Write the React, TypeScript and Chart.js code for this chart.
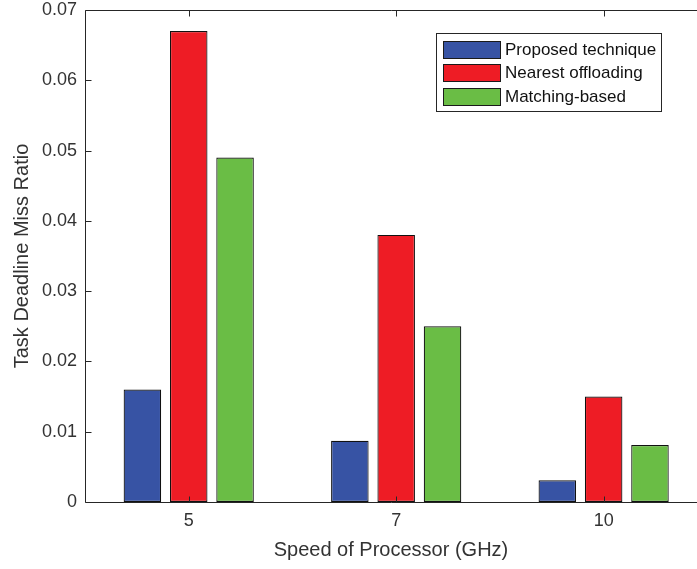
import React, { useEffect, useRef } from "react";
import { Chart, registerables } from "chart.js";

Chart.register(...registerables);

const CATEGORIES = ["5", "7", "10"];
const X_POS = [1, 2, 3];
const SERIES_NAMES = ["Proposed technique", "Nearest offloading", "Matching-based"];
const PROPOSED = [0.016, 0.0087, 0.0031];
const NEAREST = [0.067, 0.038, 0.015];
const MATCHING = [0.049, 0.025, 0.0081];
const Y_TICKS = [0, 0.01, 0.02, 0.03, 0.04, 0.05, 0.06, 0.07];
const COLORS = ["#3753a4", "#ee1c25", "#6abd45"];

const FONT = '"Liberation Sans", Arial, Helvetica, sans-serif';
const AXIS_COLOR = "#262626";
const TEXT_COLOR = "#333333";

const boxPlugin = {
  id: "matlabBox",
  afterDatasetsDraw(chart: any) {
    const { ctx, chartArea, scales } = chart;
    const { left, right, top, bottom } = chartArea;
    const L = Math.round(left) + 0.5;
    const T = Math.round(top) + 0.5;
    const B = Math.round(bottom) + 0.5;
    ctx.save();
    ctx.strokeStyle = AXIS_COLOR;
    ctx.lineWidth = 1;
    ctx.beginPath();
    ctx.moveTo(right + 5, T);
    ctx.lineTo(L, T);
    ctx.lineTo(L, B);
    ctx.lineTo(right + 5, B);
    ctx.stroke();
    const tl = 6;
    ctx.beginPath();
    scales.y.ticks.forEach((t: any) => {
      const y = Math.round(scales.y.getPixelForValue(t.value)) + 0.5;
      ctx.moveTo(L, y);
      ctx.lineTo(L + tl, y);
    });
    scales.x.ticks.forEach((t: any) => {
      const x = Math.round(scales.x.getPixelForValue(t.value)) + 0.5;
      ctx.moveTo(x, B);
      ctx.lineTo(x, B - tl);
      ctx.moveTo(x, T);
      ctx.lineTo(x, T + tl);
    });
    ctx.stroke();
    ctx.restore();
  },
  afterDraw(chart: any) {
    const { ctx, chartArea } = chart;
    const fontSize = 17;
    ctx.save();
    ctx.font = `${fontSize}px ${FONT}`;
    const names = chart.data.datasets.map((d: any) => d.label);
    const maxW = Math.max(...names.map((n: string) => ctx.measureText(n).width));
    const swW = 57;
    const swH = 17;
    const rowH = 23.5;
    const padL = 6;
    const gap = 5;
    const padR = 6;
    const padT = 7;
    const boxW = padL + swW + gap + maxW + padR;
    const boxH = padT * 2 + rowH * names.length - (rowH - swH);
    const boxRight = chartArea.right - 36;
    const boxLeft = Math.round(boxRight - boxW) + 0.5;
    const boxTop = Math.round(chartArea.top + 23) + 0.5;
    ctx.fillStyle = "#ffffff";
    ctx.fillRect(boxLeft, boxTop, Math.round(boxW), Math.round(boxH));
    ctx.strokeStyle = AXIS_COLOR;
    ctx.lineWidth = 1;
    ctx.strokeRect(boxLeft, boxTop, Math.round(boxW), Math.round(boxH));
    names.forEach((n: string, i: number) => {
      const y = Math.round(boxTop + padT + i * rowH);
      const x = Math.round(boxLeft + padL);
      ctx.fillStyle = chart.data.datasets[i].backgroundColor;
      ctx.fillRect(x + 0.5, y + 0.5, swW, swH);
      ctx.strokeStyle = "#1a1a1a";
      ctx.strokeRect(x + 0.5, y + 0.5, swW, swH);
      ctx.fillStyle = "#111111";
      ctx.textBaseline = "middle";
      ctx.textAlign = "left";
      ctx.fillText(n, x + swW + gap, y + swH / 2 + 1);
    });
    ctx.restore();
  },
};

export default function App() {
  const canvasRef = useRef<HTMLCanvasElement | null>(null);

  useEffect(() => {
    const canvas = canvasRef.current;
    if (!canvas) return;
    const seriesValues = [PROPOSED, NEAREST, MATCHING];
    const chart = new Chart(canvas, {
      type: "bar",
      data: {
        datasets: seriesValues.map((vals, si) => ({
          label: SERIES_NAMES[si],
          data: X_POS.map((x, i) => ({ x, y: vals[i] })),
          backgroundColor: COLORS[si],
          borderColor: "#111111",
          borderWidth: 1.2,
          borderSkipped: false,
          categoryPercentage: 0.67,
          barPercentage: 0.81,
        })),
      },
      options: {
        responsive: false,
        animation: false,
        devicePixelRatio: 1,
        layout: { padding: { top: 0, left: 0, right: 0, bottom: 0 } },
        plugins: { legend: { display: false }, tooltip: { enabled: false } },
        scales: {
          x: {
            type: "linear",
            min: 0.5,
            max: 3.45,
            offset: false,
            grid: { display: false, drawTicks: false },
            border: { display: false },
            afterBuildTicks: (s: any) => {
              s.ticks = X_POS.map((v) => ({ value: v }));
            },
            afterFit: (s: any) => {
              s.height = 67;
              s.paddingLeft = 0;
              s.paddingRight = 0;
            },
            ticks: {
              autoSkip: false,
              maxRotation: 0,
              padding: 8,
              color: TEXT_COLOR,
              font: { family: FONT, size: 18 },
              callback: (v: any) => {
                const idx = X_POS.indexOf(Number(v));
                return idx >= 0 ? CATEGORIES[idx] : "";
              },
            },
            title: {
              display: true,
              text: "Speed of Processor (GHz)",
              color: TEXT_COLOR,
              font: { family: FONT, size: 20 },
              padding: { top: 0, bottom: 7 },
            },
          },
          y: {
            type: "linear",
            min: 0,
            max: 0.07,
            grid: { display: false, drawTicks: false },
            border: { display: false },
            afterBuildTicks: (s: any) => {
              s.ticks = Y_TICKS.map((v) => ({ value: v }));
            },
            afterFit: (s: any) => {
              s.width = 85;
              s.paddingTop = 10;
              s.paddingBottom = 0;
            },
            ticks: {
              padding: 8,
              color: TEXT_COLOR,
              font: { family: FONT, size: 18, lineHeight: 1.1 },
              callback: (v: any) => (Number(v) === 0 ? "0" : Number(v).toFixed(2)),
            },
            title: {
              display: true,
              text: "Task Deadline Miss Ratio",
              color: TEXT_COLOR,
              font: { family: FONT, size: 20 },
              padding: { top: 10, bottom: 0 },
            },
          },
        },
      } as any,
      plugins: [boxPlugin],
    });
    return () => chart.destroy();
  }, []);

  return (
    <div style={{ position: "absolute", left: 0, top: 0, width: 697, height: 569, background: "#fff" }}>
      <canvas ref={canvasRef} width={697} height={569} style={{ display: "block", width: 697, height: 569 }} />
    </div>
  );
}
